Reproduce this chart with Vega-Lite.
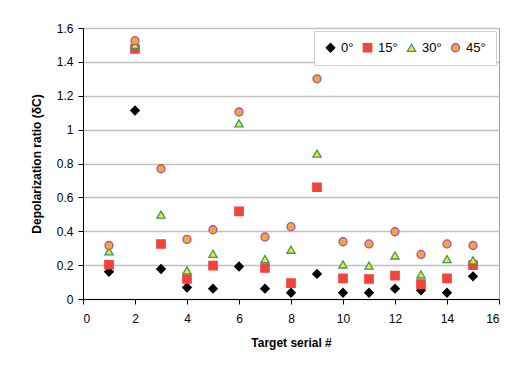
{
  "$schema": "https://vega.github.io/schema/vega-lite/v6.json",
  "width": 416,
  "height": 271,
  "autosize": {"type": "none"},
  "padding": {"left": 83, "top": 28, "right": 7, "bottom": 77},
  "background": "white",
  "config": {
    "font": "Liberation Sans",
    "view": {"stroke": "#a0a0a0", "strokeWidth": 1}
  },
  "data": {
    "values": [
      {"target": 1, "angle": "0°", "ratio": 0.161},
      {"target": 2, "angle": "0°", "ratio": 1.113},
      {"target": 3, "angle": "0°", "ratio": 0.177},
      {"target": 4, "angle": "0°", "ratio": 0.068},
      {"target": 5, "angle": "0°", "ratio": 0.061},
      {"target": 6, "angle": "0°", "ratio": 0.192},
      {"target": 7, "angle": "0°", "ratio": 0.061},
      {"target": 8, "angle": "0°", "ratio": 0.037},
      {"target": 9, "angle": "0°", "ratio": 0.148},
      {"target": 10, "angle": "0°", "ratio": 0.037},
      {"target": 11, "angle": "0°", "ratio": 0.037},
      {"target": 12, "angle": "0°", "ratio": 0.061},
      {"target": 13, "angle": "0°", "ratio": 0.051},
      {"target": 14, "angle": "0°", "ratio": 0.037},
      {"target": 15, "angle": "0°", "ratio": 0.134},
      {"target": 1, "angle": "15°", "ratio": 0.202},
      {"target": 2, "angle": "15°", "ratio": 1.476},
      {"target": 3, "angle": "15°", "ratio": 0.325},
      {"target": 4, "angle": "15°", "ratio": 0.118},
      {"target": 5, "angle": "15°", "ratio": 0.197},
      {"target": 6, "angle": "15°", "ratio": 0.517},
      {"target": 7, "angle": "15°", "ratio": 0.183},
      {"target": 8, "angle": "15°", "ratio": 0.094},
      {"target": 9, "angle": "15°", "ratio": 0.66},
      {"target": 10, "angle": "15°", "ratio": 0.122},
      {"target": 11, "angle": "15°", "ratio": 0.118},
      {"target": 12, "angle": "15°", "ratio": 0.138},
      {"target": 13, "angle": "15°", "ratio": 0.088},
      {"target": 14, "angle": "15°", "ratio": 0.122},
      {"target": 15, "angle": "15°", "ratio": 0.2},
      {"target": 1, "angle": "30°", "ratio": 0.281},
      {"target": 2, "angle": "30°", "ratio": 1.5},
      {"target": 3, "angle": "30°", "ratio": 0.498},
      {"target": 4, "angle": "30°", "ratio": 0.169},
      {"target": 5, "angle": "30°", "ratio": 0.267},
      {"target": 6, "angle": "30°", "ratio": 1.037},
      {"target": 7, "angle": "30°", "ratio": 0.236},
      {"target": 8, "angle": "30°", "ratio": 0.291},
      {"target": 9, "angle": "30°", "ratio": 0.858},
      {"target": 10, "angle": "30°", "ratio": 0.204},
      {"target": 11, "angle": "30°", "ratio": 0.197},
      {"target": 12, "angle": "30°", "ratio": 0.257},
      {"target": 13, "angle": "30°", "ratio": 0.145},
      {"target": 14, "angle": "30°", "ratio": 0.236},
      {"target": 15, "angle": "30°", "ratio": 0.228},
      {"target": 1, "angle": "45°", "ratio": 0.316},
      {"target": 2, "angle": "45°", "ratio": 1.525},
      {"target": 3, "angle": "45°", "ratio": 0.769},
      {"target": 4, "angle": "45°", "ratio": 0.352},
      {"target": 5, "angle": "45°", "ratio": 0.409},
      {"target": 6, "angle": "45°", "ratio": 1.104},
      {"target": 7, "angle": "45°", "ratio": 0.366},
      {"target": 8, "angle": "45°", "ratio": 0.427},
      {"target": 9, "angle": "45°", "ratio": 1.3},
      {"target": 10, "angle": "45°", "ratio": 0.338},
      {"target": 11, "angle": "45°", "ratio": 0.325},
      {"target": 12, "angle": "45°", "ratio": 0.397},
      {"target": 13, "angle": "45°", "ratio": 0.263},
      {"target": 14, "angle": "45°", "ratio": 0.325},
      {"target": 15, "angle": "45°", "ratio": 0.316}
    ]
  },
  "mark": {"type": "point", "filled": true, "strokeWidth": 1.3, "opacity": 1},
  "encoding": {
    "x": {
      "field": "target",
      "type": "quantitative",
      "scale": {"domain": [0, 16], "nice": false},
      "axis": {
        "title": "Target serial #",
        "values": [0, 2, 4, 6, 8, 10, 12, 14, 16],
        "grid": false,
        "domainColor": "#000000",
        "tickColor": "#000000",
        "tickSize": 5,
        "labelPadding": 9,
        "labelFontSize": 12,
        "labelColor": "#000000",
        "titleFontSize": 12,
        "titleFontWeight": "bold",
        "titleColor": "#000000",
        "titlePadding": 13
      }
    },
    "y": {
      "field": "ratio",
      "type": "quantitative",
      "scale": {"domain": [0, 1.6], "nice": false},
      "axis": {
        "title": "Depolarization ratio  (δC)",
        "values": [0, 0.2, 0.4, 0.6, 0.8, 1, 1.2, 1.4, 1.6],
        "format": ".1~f",
        "grid": true,
        "gridColor": "#c0c0c0",
        "gridWidth": 1.5,
        "domainColor": "#000000",
        "tickColor": "#000000",
        "tickSize": 5,
        "labelPadding": 5,
        "labelFontSize": 12,
        "labelColor": "#000000",
        "titleFontSize": 12,
        "titleFontWeight": "bold",
        "titleColor": "#000000",
        "titlePadding": 13
      }
    },
    "size": {
      "field": "angle",
      "type": "nominal",
      "title": null,
      "scale": {"domain": ["0°", "15°", "30°", "45°"], "range": [72, 64, 100, 56]},
      "legend": {
        "orient": "top-right",
        "direction": "horizontal",
        "offset": 3,
        "padding": 10,
        "fillColor": "white",
        "strokeColor": "#d0d0d0",
        "labelFontSize": 13,
        "labelColor": "#000000",
        "labelOffset": 4,
        "columnPadding": 6,
        "symbolStrokeWidth": 1.3
      }
    },
    "shape": {
      "field": "angle",
      "type": "nominal",
      "title": null,
      "scale": {"domain": ["0°", "15°", "30°", "45°"], "range": ["diamond", "square", "triangle-up", "circle"]},
      "legend": {
        "orient": "top-right",
        "direction": "horizontal",
        "offset": 3,
        "padding": 10,
        "fillColor": "white",
        "strokeColor": "#d0d0d0",
        "labelFontSize": 13,
        "labelColor": "#000000",
        "labelOffset": 4,
        "columnPadding": 6,
        "symbolStrokeWidth": 1.3
      }
    },
    "fill": {
      "field": "angle",
      "type": "nominal",
      "title": null,
      "scale": {"domain": ["0°", "15°", "30°", "45°"], "range": ["#000000", "#f4433b", "#ffe41c", "#f7a33a"]}
    },
    "stroke": {
      "field": "angle",
      "type": "nominal",
      "title": null,
      "scale": {"domain": ["0°", "15°", "30°", "45°"], "range": ["#000000", "#f4433b", "#2f9e66", "#9b55b5"]}
    }
  }
}
